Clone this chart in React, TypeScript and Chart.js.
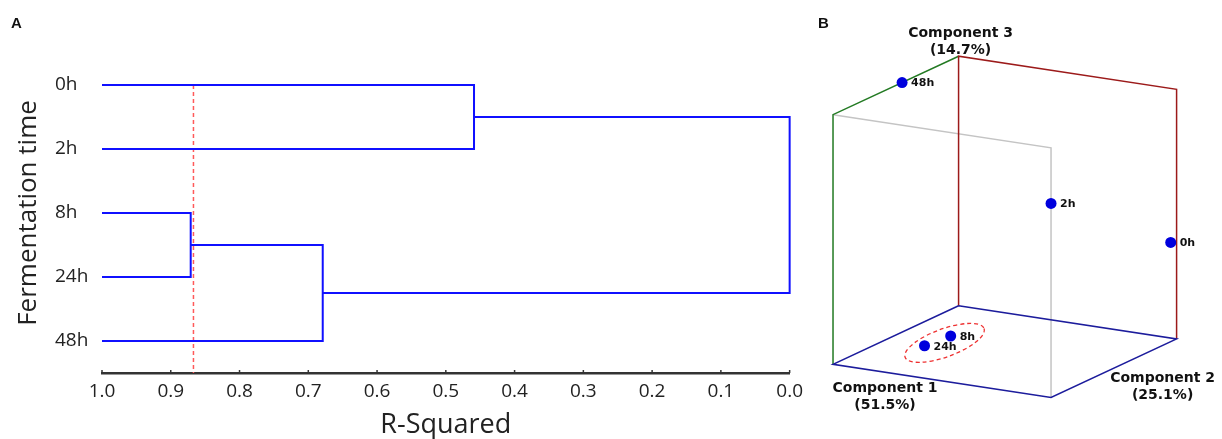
import React, { useEffect, useRef } from 'react';
import { Chart, registerables } from 'chart.js';

Chart.register(...registerables);

// ---------- Panel A data: hierarchical clustering ----------
const samples = ['0h', '2h', '8h', '24h', '48h'];
// each merge joins two clusters (leaf names or previous merges "M<index>") at an R-squared level
const mergeLeft = ['8h', '0h', 'M0', 'M1'];
const mergeRight = ['24h', '2h', '48h', 'M2'];
const mergeLevel = [0.871, 0.459, 0.679, 0.0];
const cutoffLevel = 0.867;

// ---------- Panel B data: PCA scores (scaled 0-1 per component) ----------
const pcaLabels = ['0h', '2h', '8h', '24h', '48h'];
const pc1Scores = [0.0, 0.5, 0.405, 0.582, 0.45];
const pc2Scores = [0.973, 0.712, 0.197, 0.179, 0.0];
const pc3Scores = [0.383, 0.622, 0.0, 0.0, 1.0];
const pcNames = ['Component 1', 'Component 2', 'Component 3'];
const pcVariance = [51.5, 25.1, 14.7];
const clusteredSamples = ['8h', '24h'];

// ---------- styles ----------
const BLUE = '#1010ff';
const FONT_A = "'Open Sans', sans-serif";
const FONT_B = "'DejaVu Sans', Verdana, sans-serif";
const FONT_LETTER = "'Liberation Sans', Arial, sans-serif";

// oblique projection of the unit cube (view parameters)
const VIEW = { e1: [-129, -60], e2: [224, -34], e3: [0, 256] };
const proj = (a: number, b: number, c: number) => ({
  x: VIEW.e1[0] * a + VIEW.e2[0] * b + VIEW.e3[0] * c,
  y: VIEW.e1[1] * a + VIEW.e2[1] * b + VIEW.e3[1] * c,
});

function buildDendrogram() {
  const nodes: Record<string, { y: number; h: number }> = {};
  samples.forEach((s, i) => (nodes[s] = { y: i, h: 1.0 }));
  const segs: { x: number; y: number }[][] = [];
  mergeLevel.forEach((h, i) => {
    const a = nodes[mergeLeft[i]];
    const b = nodes[mergeRight[i]];
    segs.push([
      { x: a.h, y: a.y },
      { x: h, y: a.y },
      { x: h, y: b.y },
      { x: b.h, y: b.y },
    ]);
    nodes['M' + i] = { y: (a.y + b.y) / 2, h };
  });
  return segs;
}

export default function App() {
  const refA = useRef<HTMLCanvasElement>(null);
  const refB = useRef<HTMLCanvasElement>(null);

  useEffect(() => {
    const segs = buildDendrogram();
    const panelAPlugin = {
      id: 'panelA',
      afterDraw(chart: any) {
        const ctx = chart.ctx;
        const xs = chart.scales.x;
        ctx.save();
        ctx.strokeStyle = '#333';
        ctx.lineWidth = 1.5;
        xs.ticks.forEach((t: any) => {
          const px = xs.getPixelForValue(t.value);
          ctx.beginPath();
          ctx.moveTo(px, xs.top);
          ctx.lineTo(px, xs.top - 3);
          ctx.stroke();
        });
        ctx.fillStyle = '#111';
        ctx.font = `bold 15px ${FONT_LETTER}`;
        ctx.textBaseline = 'middle';
        ctx.textAlign = 'left';
        ctx.fillText('A', 11, 24);
        ctx.restore();
      },
    };

    const chartA = new Chart(refA.current!, {
      type: 'scatter',
      data: {
        datasets: [
          ...segs.map((pts) => ({
            data: pts,
            showLine: true,
            borderColor: BLUE,
            borderWidth: 2,
            pointRadius: 0,
            borderJoinStyle: 'miter' as const,
            clip: false as any,
          })),
          {
            data: [
              { x: cutoffLevel, y: 0 },
              { x: cutoffLevel, y: samples.length - 0.5 },
            ],
            showLine: true,
            borderColor: '#ff5a5a',
            borderWidth: 1.5,
            borderDash: [4, 3],
            pointRadius: 0,
            clip: false as any,
          },
        ],
      },
      options: {
        responsive: false,
        animation: false,
        events: [],
        layout: { padding: { left: 55, right: 19, top: 53, bottom: 0 } },
        plugins: { legend: { display: false }, tooltip: { enabled: false } },
        scales: {
          x: {
            type: 'linear',
            reverse: true,
            min: 0,
            max: 1,
            afterFit: (s: any) => {
              s.height = 66;
            },
            grid: { display: false, drawTicks: false, tickLength: 0 },
            border: { display: true, color: '#333', width: 2.5 },
            ticks: {
              stepSize: 0.1,
              padding: 7,
              color: '#222',
              font: { size: 19, family: FONT_A },
              maxRotation: 0,
              autoSkip: false,
              callback: (v: any) => Number(v).toFixed(1),
            },
            title: {
              display: true,
              text: 'R-Squared',
              color: '#222',
              font: { size: 27, family: FONT_A, lineHeight: 1 },
              padding: { top: 0, bottom: 0 },
            },
          },
          y: {
            type: 'linear',
            reverse: true,
            min: -0.5,
            max: samples.length - 0.5,
            afterFit: (s: any) => {
              s.width = 47;
            },
            afterBuildTicks: (s: any) => {
              s.ticks = samples.map((_, i) => ({ value: i }));
            },
            grid: { display: false, drawTicks: false, tickLength: 0 },
            border: { display: false },
            ticks: {
              crossAlign: 'far',
              padding: 0,
              color: '#222',
              font: { size: 19, family: FONT_A },
              callback: (v: any) => samples[Math.round(Number(v))] ?? '',
            },
            title: {
              display: true,
              text: 'Fermentation time',
              color: '#222',
              font: { size: 26, family: FONT_A, lineHeight: 1 },
              padding: { top: -39.5, bottom: 0 },
            },
          },
        },
      },
      plugins: [panelAPlugin],
    } as any);

    // ---------- Panel B ----------
    const P = (a: number, b: number, c: number) => proj(a, b, c);
    const edge = (pts: number[][], color: string) => ({
      data: pts.map((p) => P(p[0], p[1], p[2])),
      showLine: true,
      borderColor: color,
      borderWidth: 1.5,
      pointRadius: 0,
      clip: false as any,
    });
    const points = pcaLabels.map((_, i) => P(pc1Scores[i], pc2Scores[i], pc3Scores[i]));

    const panelBPlugin = {
      id: 'panelB',
      afterDatasetsDraw(chart: any) {
        const ctx = chart.ctx;
        const xs = chart.scales.x;
        const ys = chart.scales.y;
        const px = (p: { x: number; y: number }) => ({ x: xs.getPixelForValue(p.x), y: ys.getPixelForValue(p.y) });
        ctx.save();
        // cluster ellipse
        const idx = clusteredSamples.map((s) => pcaLabels.indexOf(s));
        const cps = idx.map((i) => px(points[i]));
        const cx = cps.reduce((s, p) => s + p.x, 0) / cps.length + 7;
        const cy = cps.reduce((s, p) => s + p.y, 0) / cps.length + 2;
        ctx.strokeStyle = '#ee3030';
        ctx.lineWidth = 1.3;
        ctx.setLineDash([4, 3]);
        ctx.beginPath();
        ctx.ellipse(cx, cy, 42, 14, (-20 * Math.PI) / 180, 0, Math.PI * 2);
        ctx.stroke();
        ctx.setLineDash([]);
        // point labels
        ctx.fillStyle = '#111';
        ctx.font = `bold 11px ${FONT_B}`;
        ctx.textBaseline = 'middle';
        ctx.textAlign = 'left';
        pcaLabels.forEach((l, i) => {
          const p = px(points[i]);
          ctx.fillText(l, p.x + 9, p.y + 1);
        });
        // axis labels
        ctx.font = `bold 14px ${FONT_B}`;
        ctx.textAlign = 'center';
        const axisLab = (corner: { x: number; y: number }, dx: number, dy: number, i: number) => {
          const c = px(corner);
          ctx.fillText(pcNames[i], c.x + dx, c.y + dy);
          ctx.fillText(`(${pcVariance[i].toFixed(1)}%)`, c.x + dx, c.y + dy + 17);
        };
        axisLab(P(1, 0, 0), 52, 24, 0);
        axisLab(P(0, 1, 0), -14, 39, 1);
        axisLab(P(0, 0, 1), 2, -23, 2);
        // panel letter
        ctx.font = `bold 15px ${FONT_LETTER}`;
        ctx.textAlign = 'left';
        ctx.fillText('B', 8, 24);
        ctx.restore();
      },
    };

    const chartB = new Chart(refB.current!, {
      type: 'scatter',
      data: {
        datasets: [
          {
            data: points,
            pointRadius: 5.5,
            backgroundColor: '#0000dd',
            borderWidth: 0,
            order: 0,
          },
          { ...edge([[0, 0, 0], [1, 0, 0], [1, 1, 0], [0, 1, 0], [0, 0, 0]], '#1c1c9c'), order: 1 },
          { ...edge([[0, 0, 0], [0, 0, 1], [0, 1, 1], [0, 1, 0]], '#9c1a1a'), order: 2 },
          { ...edge([[1, 0, 0], [1, 0, 1], [0, 0, 1]], '#237a23'), order: 3 },
          { ...edge([[1, 0, 1], [1, 1, 1], [1, 1, 0]], '#c4c4c4'), order: 4 },
        ],
      },
      options: {
        responsive: false,
        animation: false,
        events: [],
        layout: { padding: 0 },
        plugins: { legend: { display: false }, tooltip: { enabled: false } },
        scales: {
          x: { type: 'linear', display: false, min: -147, max: 265 },
          y: { type: 'linear', display: false, min: -131, max: 308 },
        },
      },
      plugins: [panelBPlugin],
    } as any);

    return () => {
      chartA.destroy();
      chartB.destroy();
    };
  }, []);

  return (
    <div style={{ position: 'fixed', left: 0, top: 0, width: 1222, height: 439, background: '#fff' }}>
      <div style={{ position: 'absolute', left: 0, top: 0, width: 810, height: 439 }}>
        <canvas ref={refA} width={810} height={439} />
      </div>
      <div style={{ position: 'absolute', left: 810, top: 0, width: 412, height: 439 }}>
        <canvas ref={refB} width={412} height={439} />
      </div>
    </div>
  );
}
